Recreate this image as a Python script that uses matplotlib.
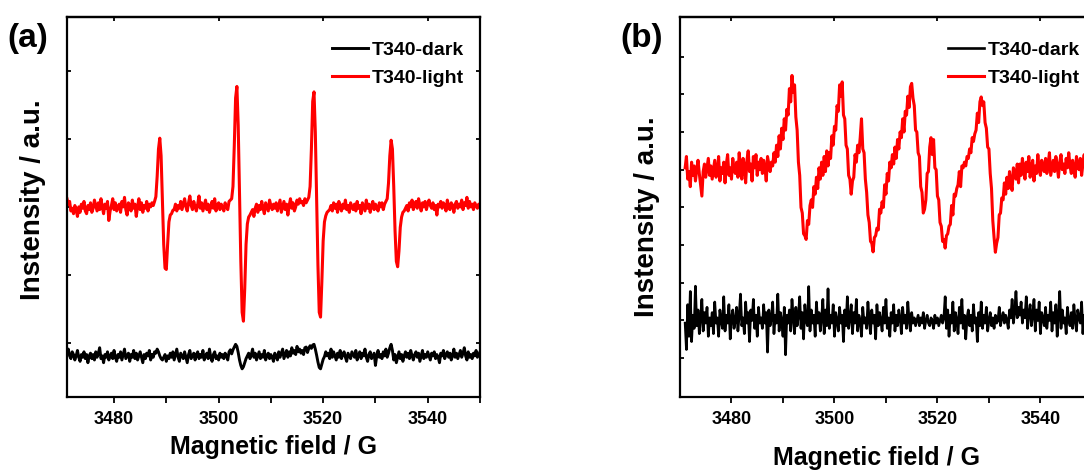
import matplotlib
matplotlib.use('Agg')
import matplotlib.pyplot as plt
import numpy as np

# EPR spectra, intensity in arbitrary units
field_start = 3471.0   # G
field_step = 0.25      # G

# panel (a)
light_a = [
    3.12, 3.04, 3.08, 2.94, 2.98, 2.90, 3.02, 2.96, 2.86, 3.00, 2.92, 3.04, 2.98, 3.08, 2.94, 2.90, 3.02, 2.96, 3.06, 2.92,  # 3471
    2.98, 3.10, 3.02, 2.94, 3.06, 2.96, 3.12, 3.00, 2.90, 3.04, 2.98, 3.08, 2.80, 2.94, 3.02, 3.12, 2.96, 3.06, 2.94, 3.00,  # 3476
    3.04, 2.92, 3.08, 3.00, 3.14, 2.96, 2.88, 3.06, 3.02, 2.94, 3.10, 2.98, 3.04, 2.86, 3.00, 3.12, 2.96, 3.06, 2.92, 3.02,  # 3481
    2.98, 3.08, 2.94, 3.04, 3.00, 3.06, 3.02, 3.08, 3.15, 3.45, 3.85, 4.01, 3.75, 3.10, 2.45, 2.10, 2.08, 2.45, 2.78, 2.88,  # 3486
    2.90, 2.95, 2.96, 3.04, 2.94, 3.02, 2.98, 3.08, 2.96, 3.04, 3.12, 3.00, 2.94, 3.06, 3.16, 3.02, 2.96, 3.08, 3.00, 2.94,  # 3491
    3.04, 3.16, 2.98, 3.06, 2.94, 3.02, 3.10, 2.96, 3.04, 2.92, 3.00, 3.08, 2.98, 3.12, 2.94, 3.02, 3.06, 2.96, 3.04, 3.00,  # 3496
    2.94, 3.06, 3.00, 2.96, 3.08, 3.10, 3.12, 3.30, 3.90, 4.60, 4.77, 4.20, 3.20, 2.20, 1.45, 1.32, 1.80, 2.45, 2.75, 2.85,  # 3501
    2.88, 2.92, 2.96, 2.86, 2.98, 3.04, 2.92, 3.02, 2.96, 3.08, 2.98, 2.90, 3.06, 3.00, 2.94, 3.10, 3.02, 2.96, 3.04, 2.98,  # 3506
    3.06, 2.94, 3.02, 3.10, 2.92, 3.00, 3.08, 2.96, 3.04, 2.88, 3.02, 3.12, 2.98, 3.06, 2.94, 3.00, 3.10, 3.04, 3.12, 3.06,  # 3511
    3.08, 3.02, 3.12, 3.06, 3.10, 3.14, 3.30, 3.85, 4.55, 4.69, 4.10, 3.10, 2.15, 1.45, 1.38, 1.90, 2.50, 2.78, 2.87, 2.92,  # 3516
    2.94, 2.96, 3.02, 2.94, 3.06, 2.98, 3.04, 2.92, 3.08, 3.00, 2.94, 3.04, 2.98, 3.10, 2.96, 3.02, 2.92, 3.06, 3.00, 2.96,  # 3521
    3.04, 2.94, 3.08, 2.98, 3.02, 2.90, 3.06, 3.00, 2.94, 3.10, 2.98, 3.04, 2.92, 3.02, 3.08, 2.96, 3.04, 3.00, 2.94, 3.06,  # 3526
    3.00, 3.06, 2.96, 3.04, 3.08, 3.12, 3.35, 3.75, 3.98, 3.85, 3.30, 2.65, 2.20, 2.12, 2.35, 2.70, 2.85, 2.92, 2.94, 2.98,  # 3531
    3.02, 2.94, 3.06, 3.00, 3.10, 2.96, 3.04, 3.08, 2.98, 3.12, 3.02, 2.94, 3.06, 3.00, 3.08, 2.96, 3.04, 3.10, 3.02, 2.98,  # 3536
    3.06, 2.96, 3.02, 2.88, 3.04, 3.00, 3.08, 2.98, 3.06, 3.02, 2.94, 3.10, 3.00, 2.96, 3.06, 3.02, 2.92, 3.04, 3.08, 2.98,  # 3541
    3.04, 3.00, 3.10, 2.96, 3.06, 3.02, 3.14, 2.98, 3.08, 3.00, 3.04, 2.96, 3.06, 3.02, 2.98, 3.04, 3.00,                    # 3546
]
dark_a = [
    0.85, 0.91, 0.81, 0.77, 0.87, 0.83, 0.75, 0.81, 0.89, 0.79, 0.73, 0.83, 0.79, 0.87, 0.77, 0.83, 0.71, 0.81, 0.85, 0.77,
    0.83, 0.75, 0.87, 0.79, 0.85, 0.93, 0.77, 0.81, 0.71, 0.83, 0.79, 0.87, 0.75, 0.81, 0.85, 0.77, 0.89, 0.79, 0.73, 0.83,
    0.79, 0.87, 0.75, 0.83, 0.91, 0.77, 0.81, 0.85, 0.73, 0.83, 0.79, 0.89, 0.77, 0.85, 0.75, 0.81, 0.87, 0.79, 0.71, 0.83,
    0.77, 0.85, 0.81, 0.89, 0.75, 0.83, 0.79, 0.87, 0.85, 0.91, 0.87, 0.81, 0.77, 0.75, 0.79, 0.83, 0.73, 0.81, 0.77, 0.85,
    0.79, 0.87, 0.75, 0.83, 0.91, 0.79, 0.73, 0.85, 0.81, 0.77, 0.87, 0.79, 0.71, 0.83, 0.89, 0.77, 0.81, 0.85, 0.75, 0.83,
    0.87, 0.77, 0.83, 0.79, 0.89, 0.75, 0.81, 0.85, 0.77, 0.91, 0.79, 0.73, 0.83, 0.87, 0.77, 0.81, 0.75, 0.85, 0.79, 0.83,
    0.77, 0.85, 0.81, 0.75, 0.87, 0.90, 0.84, 0.90, 0.94, 0.98, 0.95, 0.86, 0.75, 0.67, 0.62, 0.65, 0.71, 0.77, 0.81, 0.85,
    0.77, 0.83, 0.91, 0.79, 0.85, 0.75, 0.81, 0.87, 0.77, 0.83, 0.79, 0.89, 0.75, 0.81, 0.85, 0.77, 0.83, 0.79, 0.73, 0.85,
    0.81, 0.75, 0.87, 0.79, 0.85, 0.91, 0.77, 0.83, 0.89, 0.79, 0.87, 0.81, 0.93, 0.85, 0.89, 0.83, 0.95, 0.87, 0.91, 0.85,
    0.89, 0.83, 0.93, 0.94, 0.86, 0.92, 0.96, 0.92, 0.97, 0.98, 0.91, 0.82, 0.72, 0.64, 0.62, 0.69, 0.76, 0.80, 0.87, 0.81,
    0.85, 0.77, 0.91, 0.79, 0.87, 0.81, 0.75, 0.85, 0.79, 0.89, 0.77, 0.83, 0.87, 0.79, 0.73, 0.85, 0.81, 0.77, 0.87, 0.83,
    0.79, 0.89, 0.75, 0.83, 0.87, 0.77, 0.85, 0.81, 0.91, 0.79, 0.73, 0.83, 0.87, 0.77, 0.81, 0.85, 0.67, 0.81, 0.89, 0.79,
    0.83, 0.77, 0.87, 0.81, 0.91, 0.79, 0.85, 0.93, 0.98, 0.89, 0.75, 0.83, 0.71, 0.79, 0.87, 0.77, 0.83, 0.73, 0.81, 0.87,
    0.79, 0.85, 0.77, 0.89, 0.81, 0.75, 0.83, 0.87, 0.79, 0.85, 0.73, 0.81, 0.89, 0.77, 0.83, 0.79, 0.87, 0.81, 0.75, 0.85,
    0.81, 0.87, 0.77, 0.83, 0.79, 0.71, 0.85, 0.81, 0.89, 0.77, 0.83, 0.87, 0.79, 0.85, 0.75, 0.81, 0.91, 0.79, 0.85, 0.77,
    0.83, 0.89, 0.79, 0.85, 0.93, 0.81, 0.75, 0.87, 0.79, 0.83, 0.77, 0.85, 0.81, 0.89, 0.79, 0.83, 0.87,
]

# panel (b)
light_b = [
    6.05, 6.35, 5.75, 5.95, 5.55, 6.20, 5.85, 6.10, 5.70, 6.00, 6.25, 5.90, 5.60, 5.30, 5.95, 6.15, 5.80, 6.05, 6.30, 5.85,  # 3471
    6.10, 5.75, 6.00, 6.25, 5.80, 5.95, 6.35, 5.70, 6.05, 5.90, 6.20, 5.65, 6.15, 6.40, 5.85, 6.05, 5.75, 6.30, 6.00, 5.90,  # 3476
    6.20, 5.80, 6.45, 6.00, 5.75, 6.30, 6.10, 5.65, 6.25, 6.50, 5.95, 6.15, 5.70, 6.35, 6.05, 6.40, 5.85, 6.20, 6.00, 6.30,  # 3481
    5.90, 6.25, 6.05, 5.70, 6.35, 6.15, 5.95, 6.20, 6.10, 6.45, 6.20, 6.65, 6.35, 6.90, 6.55, 7.10, 6.80, 7.35, 7.05, 7.60,  # 3486
    7.45, 8.15, 7.80, 8.50, 8.05, 8.25, 7.40, 7.05, 6.20, 5.85, 5.00, 4.85, 4.30, 4.25, 4.15, 4.65, 4.55, 5.05, 5.20, 5.00,  # 3491
    5.55, 5.35, 5.80, 5.50, 6.05, 5.75, 6.20, 5.85, 6.35, 5.95, 6.50, 6.10, 6.45, 6.30, 6.90, 6.65, 7.15, 7.05, 7.70, 7.55,  # 3496
    8.25, 7.95, 8.33, 7.45, 7.35, 6.65, 6.55, 5.85, 5.75, 5.35, 5.70, 5.80, 6.40, 6.20, 6.65, 6.45, 6.85, 7.35, 6.55, 6.45,  # 3501
    5.75, 5.40, 4.80, 4.60, 4.10, 4.05, 3.82, 4.20, 4.25, 4.45, 4.40, 4.95, 4.85, 5.15, 5.00, 5.60, 5.35, 5.90, 5.70, 6.20,  # 3506
    6.05, 6.40, 6.15, 6.60, 6.30, 6.80, 6.55, 7.00, 6.85, 7.35, 7.00, 7.55, 7.45, 7.95, 7.65, 8.20, 8.29, 7.90, 7.70, 7.05,  # 3511
    7.00, 6.45, 6.35, 5.55, 5.40, 4.85, 4.95, 5.20, 5.90, 5.95, 6.60, 6.85, 6.40, 6.80, 6.05, 6.00, 5.30, 5.20, 4.60, 4.50,  # 3516
    4.10, 4.15, 3.92, 4.25, 4.30, 4.50, 4.55, 5.05, 4.80, 5.35, 5.30, 5.50, 5.60, 5.95, 5.55, 6.10, 6.05, 6.20, 6.10, 6.35,  # 3521
    6.30, 6.55, 6.45, 6.85, 6.75, 6.95, 7.05, 7.50, 7.25, 7.80, 7.93, 7.70, 7.80, 7.25, 7.10, 6.60, 6.55, 5.90, 5.50, 4.65,  # 3526
    4.20, 3.81, 4.05, 4.20, 4.80, 4.85, 5.25, 5.20, 5.65, 5.35, 5.80, 5.50, 5.95, 5.65, 5.45, 6.05, 5.95, 5.75, 6.15, 5.65,  # 3531
    6.15, 5.85, 6.30, 6.00, 5.75, 6.20, 5.95, 6.35, 5.80, 6.05, 6.25, 5.70, 6.10, 5.90, 6.40, 6.00, 5.85, 6.25, 6.05, 5.95,  # 3536
    6.30, 5.90, 6.15, 6.45, 5.85, 6.05, 6.25, 5.95, 6.35, 6.10, 5.80, 6.20, 6.40, 6.00, 6.15, 5.90, 6.30, 6.05, 6.45, 6.10,  # 3541
    5.90, 6.25, 6.05, 5.80, 6.35, 6.10, 6.00, 6.30, 5.85, 6.15, 6.40, 5.95, 6.20, 6.05, 5.90, 6.25, 6.10,                    # 3546
]
dark_b = [
    1.93, 1.23, 2.42, 1.58, 2.77, 1.44, 2.14, 1.79, 2.91, 1.86, 2.28, 1.65, 2.07, 2.56, 1.72, 2.21, 1.93, 2.35, 1.58, 2.07,
    1.86, 2.21, 1.65, 2.49, 1.93, 2.07, 1.58, 2.28, 2.00, 1.79, 2.63, 1.72, 2.14, 1.93, 2.42, 1.51, 2.07, 2.28, 1.79, 2.00,
    2.35, 1.72, 2.14, 2.70, 1.86, 2.07, 1.65, 2.49, 1.93, 2.21, 1.44, 2.28, 2.00, 2.56, 1.79, 2.14, 1.58, 2.35, 1.93, 2.07,
    1.79, 2.42, 1.93, 2.21, 1.16, 2.28, 1.86, 2.07, 2.49, 1.65, 2.14, 1.93, 2.70, 1.72, 2.21, 2.00, 1.58, 2.35, 1.09, 2.14,
    1.93, 2.28, 1.72, 2.56, 2.07, 1.65, 2.35, 1.86, 2.14, 2.63, 1.79, 2.21, 1.51, 2.42, 2.00, 1.86, 2.90, 1.72, 2.28, 1.93,
    2.14, 1.58, 2.49, 1.93, 2.21, 1.72, 2.07, 2.56, 1.65, 2.28, 1.86, 2.84, 1.79, 2.14, 1.93, 2.42, 1.58, 2.21, 2.00, 1.72,
    2.35, 1.93, 2.14, 1.44, 2.28, 1.86, 2.63, 1.79, 2.07, 2.42, 1.65, 2.21, 1.93, 2.56, 1.72, 2.14, 2.00, 1.58, 2.35, 1.93,
    2.07, 1.79, 2.49, 2.00, 1.65, 2.28, 1.93, 2.14, 1.51, 2.42, 1.86, 2.21, 2.00, 1.72, 2.35, 1.93, 2.56, 1.79, 2.07, 1.58,
    2.21, 1.93, 2.42, 1.72, 2.14, 1.86, 2.28, 2.07, 1.65, 2.35, 1.93, 2.14, 1.79, 2.49, 2.00, 1.72, 2.21, 1.93, 2.07, 1.86,
    2.00, 2.14, 1.86, 2.07, 1.93, 2.21, 1.79, 2.00, 2.14, 1.93, 1.86, 2.07, 2.00, 1.79, 2.14, 1.93, 2.07, 1.86, 2.00, 2.14,
    1.93, 2.07, 2.63, 1.79, 2.28, 1.58, 2.14, 1.93, 2.49, 1.72, 2.21, 2.00, 1.65, 2.35, 1.93, 2.56, 1.79, 2.14, 1.51, 2.07,
    2.28, 1.86, 2.14, 1.72, 2.42, 1.93, 2.07, 1.44, 2.21, 1.86, 2.49, 1.79, 2.14, 1.93, 2.35, 1.72, 2.00, 2.21, 1.86, 2.07,
    1.79, 2.14, 1.93, 2.00, 2.35, 1.86, 2.07, 2.21, 1.93, 2.14, 2.00, 1.79, 2.28, 2.07, 2.56, 1.93, 2.21, 2.77, 2.07, 2.35,
    2.14, 2.49, 1.93, 2.28, 2.07, 2.63, 1.79, 2.21, 2.42, 1.86, 2.14, 2.56, 1.72, 2.28, 2.00, 2.49, 1.65, 2.21, 2.07, 1.86,
    2.35, 1.79, 2.14, 2.00, 2.49, 1.72, 2.21, 1.93, 2.42, 1.58, 2.14, 2.77, 1.79, 2.28, 1.93, 2.07, 1.65, 2.35, 2.00, 1.86,
    2.21, 1.79, 2.42, 2.00, 1.72, 2.28, 2.07, 1.93, 2.49, 1.65, 2.14, 1.86, 2.35, 2.00, 1.79, 2.21, 2.07,
]

labels = ['T340-dark', 'T340-light']
x_ticks = [3480, 3500, 3520, 3540]
x_minor = [3490, 3510, 3530, 3550]


def field_of(values):
    return field_start + field_step * np.arange(len(values))


plt.rcParams['font.family'] = ['Liberation Sans', 'DejaVu Sans']
plt.rcParams['font.weight'] = 'bold'

fig = plt.figure(figsize=(10.84, 4.72), dpi=100)
ax_a = fig.add_axes([0.0618, 0.1589, 0.381, 0.805])
ax_b = fig.add_axes([0.6273, 0.1589, 0.380, 0.805])


def style(ax, xlim, ylim, yticks):
    ax.set_xlim(xlim)
    ax.set_ylim(ylim)
    ax.set_xticks(x_ticks)
    ax.set_xticks(x_minor, minor=True)
    ax.set_yticks(yticks)
    ax.set_yticklabels([])
    ax.tick_params(axis='x', which='both', direction='out', length=4, width=1.3,
                   labelsize=13, pad=6)
    ax.tick_params(axis='y', direction='in', length=3, width=1.3, right=True)
    for lab in ax.get_xticklabels():
        lab.set_fontweight('bold')
    for sp in ax.spines.values():
        sp.set_linewidth(1.6)
    # ticks pointing inward on the top edge
    top = ax.secondary_xaxis('top')
    top.set_xticks(x_ticks)
    top.set_xticklabels([])
    top.tick_params(direction='in', length=3, width=1.3)
    top.spines['top'].set_linewidth(1.6)


# (a)
ax_a.plot(field_of(dark_a), dark_a, color='black', lw=2.1, label=labels[0])
ax_a.plot(field_of(light_a), light_a, color='red', lw=2.2, label=labels[1])
style(ax_a, (3471, 3550), (0.206, 5.79), [1, 2, 3, 4, 5])
ax_a.set_xlabel('Magnetic field / G', fontsize=18, fontweight='bold')
ax_a.xaxis.set_label_coords(0.5, -0.1)
ax_a.set_ylabel('Instensity / a.u.', fontsize=20, fontweight='bold')
ax_a.yaxis.set_label_coords(-0.05, 0.518)
ax_a.legend(loc='upper left', bbox_to_anchor=(0.642, 0.937), frameon=False,
            fontsize=14, handlelength=1.85, handletextpad=0.2, labelspacing=0.55,
            borderpad=0, borderaxespad=0)
fig.text(0.026, 0.918, '(a)', fontsize=24, fontweight='bold', ha='center', va='center')

# (b)
ax_b.plot(field_of(dark_b), dark_b, color='black', lw=1.9, label=labels[0])
ax_b.plot(field_of(light_b), light_b, color='red', lw=2.2, label=labels[1])
style(ax_b, (3470, 3550), (-0.03, 10.05), [1, 2, 3, 4, 5, 6, 7, 8, 9])
ax_b.set_xlabel('Magnetic field / G', fontsize=18, fontweight='bold')
ax_b.xaxis.set_label_coords(0.476, -0.128)
ax_b.set_ylabel('Instensity / a.u.', fontsize=20, fontweight='bold')
ax_b.yaxis.set_label_coords(-0.048, 0.474)
ax_b.legend(loc='upper left', bbox_to_anchor=(0.650, 0.937), frameon=False,
            fontsize=14, handlelength=1.85, handletextpad=0.2, labelspacing=0.55,
            borderpad=0, borderaxespad=0)
fig.text(0.592, 0.918, '(b)', fontsize=24, fontweight='bold', ha='center', va='center')

plt.savefig('out.png', dpi=100)
